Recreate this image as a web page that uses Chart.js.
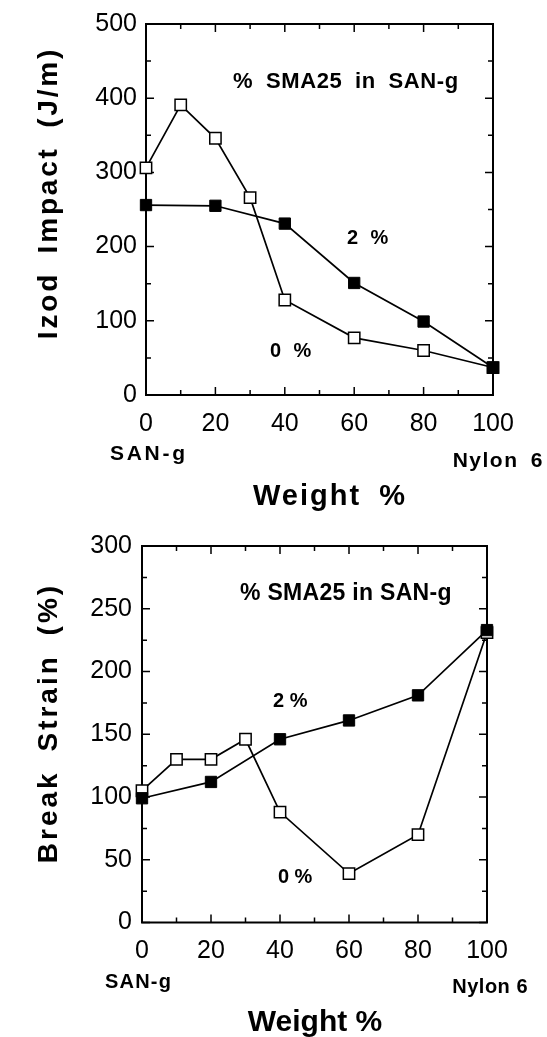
<!DOCTYPE html>
<html><head><meta charset="utf-8">
<script src="https://cdn.jsdelivr.net/npm/chart.js@4"></script>
<style>
html,body{margin:0;padding:0;background:#fff;width:547px;height:1037px;overflow:hidden}
.box{position:absolute;left:0;width:547px}
#b1{top:0;height:515px}
#b2{top:520px;height:517px}
</style></head><body>
<div class="box" id="b1"><canvas id="c1"></canvas></div>
<div class="box" id="b2"><canvas id="c2"></canvas></div>
<script>
// ---- data ----
const izodX0 = [0, 10, 20, 30, 40, 60, 80, 100];
const izod0  = [306, 391, 346, 266, 128, 77, 60, 37];
const izodX2 = [0, 20, 40, 60, 80, 100];
const izod2  = [256, 255, 231, 151, 99, 37];

const strainX0 = [0, 10, 20, 30, 40, 60, 80, 100];
const strain0  = [105, 130, 130, 146, 88, 39, 70, 231];
const strainX2 = [0, 20, 40, 60, 80, 100];
const strain2  = [99, 112, 146, 161, 181, 233];

const seriesLabels = ['2 %', '0 %'];
const legendTitle = '% SMA25 in SAN-g';
const yTitles = ['Izod Impact (J/m)', 'Break Strain (%)'];
const xTitle = 'Weight %';
const xEndLabels = ['SAN-g', 'Nylon 6'];
const xTickStep = 20, xMinorStep = 10;
const izodTickStep = 100, izodMinorStep = 50, izodMax = 500;
const strainTickStep = 50, strainMinorStep = 25, strainMax = 300;

// ---- helpers ----
const FAM = '"Liberation Sans", Arial, Helvetica, sans-serif';
function pts(xs, ys) { return xs.map((x, i) => ({ x: x, y: ys[i] })); }
function txt(ctx, s, x, y, o) {
  ctx.save();
  ctx.font = (o.bold ? 'bold ' : '') + o.size + 'px ' + FAM;
  ctx.fillStyle = '#000';
  ctx.textBaseline = 'alphabetic';
  ctx.textAlign = o.align || 'left';
  try { ctx.letterSpacing = (o.ls || 0) + 'px'; ctx.wordSpacing = (o.ws || 0) + 'px'; } catch (e) {}
  ctx.translate(x, y);
  if (o.rot) ctx.rotate(o.rot);
  ctx.fillText(s, 0, 0);
  ctx.restore();
}

const framePlugin = {
  id: 'frame',
  beforeDatasetsDraw(chart) {
    const c = chart.options.plugins.frame;
    const { ctx, chartArea: a, scales: { x, y } } = chart;
    ctx.save();
    ctx.strokeStyle = '#000';
    ctx.lineWidth = 1.5;
    ctx.beginPath();
    for (let v = x.min; v <= x.max; v += c.xMinor) {
      const p = x.getPixelForValue(v);
      const L = (v % c.xMajor === 0) ? 8 : 5;
      ctx.moveTo(p, a.bottom); ctx.lineTo(p, a.bottom - L);
      ctx.moveTo(p, a.top); ctx.lineTo(p, a.top + L);
    }
    for (let v = y.min; v <= y.max; v += c.yMinor) {
      const p = y.getPixelForValue(v);
      const L = (v % c.yMajor === 0) ? 8 : 5;
      ctx.moveTo(a.left, p); ctx.lineTo(a.left + L, p);
      ctx.moveTo(a.right, p); ctx.lineTo(a.right - L, p);
    }
    ctx.stroke();
    ctx.lineWidth = 2;
    ctx.strokeRect(a.left, a.top, a.right - a.left, a.bottom - a.top);
    ctx.restore();
  },
  afterDraw(chart) {
    const c = chart.options.plugins.frame;
    const { ctx, scales: { x, y } } = chart;
    c.notes.forEach(n => txt(ctx, n.text, x.getPixelForValue(n.x), y.getPixelForValue(n.y), n.style));
    c.fixed.forEach(n => txt(ctx, n.text, n.px, n.py, n.style));
  }
};

function makeChart(id, d0x, d0, d2x, d2, cfg) {
  const common = { borderColor: '#000', borderWidth: 1.7, pointStyle: 'rect', pointRadius: 8,
    pointHoverRadius: 8, fill: false, tension: 0, clip: false, showLine: true };
  return new Chart(document.getElementById(id), {
    type: 'line',
    data: { datasets: [
      Object.assign({ label: seriesLabels[0], data: pts(d2x, d2), pointBackgroundColor: '#000',
        pointBorderColor: '#000', pointBorderWidth: 1 }, common),
      Object.assign({ label: seriesLabels[1], data: pts(d0x, d0), pointBackgroundColor: '#fff',
        pointBorderColor: '#000', pointBorderWidth: 1.5 }, common)
    ] },
    options: {
      responsive: true, maintainAspectRatio: false, animation: false,
      layout: { padding: cfg.padding },
      plugins: { legend: { display: false }, tooltip: { enabled: false }, frame: cfg.frame },
      scales: {
        x: { type: 'linear', min: 0, max: 100,
          ticks: { stepSize: xTickStep, color: '#000', font: { family: FAM, size: 25 }, padding: 14, maxRotation: 0, autoSkip: false },
          grid: { display: false, drawTicks: false }, border: { display: false },
          afterFit(s) { s.height = cfg.xh; } },
        y: { type: 'linear', min: 0, max: cfg.ymax,
          ticks: { stepSize: cfg.ystep, color: '#000', font: { family: FAM, size: 25 }, padding: cfg.ypad, autoSkip: false },
          grid: { display: false, drawTicks: false }, border: { display: false },
          afterFit(s) { s.width = cfg.yw; } }
      }
    },
    plugins: [framePlugin]
  });
}

makeChart('c1', izodX0, izod0, izodX2, izod2, {
  padding: { top: 21, right: 54, left: 0, bottom: 0 }, xh: 120, yw: 146, ypad: 9,
  ymax: izodMax, ystep: izodTickStep,
  frame: {
    xMinor: xMinorStep, xMajor: xTickStep, yMinor: izodMinorStep, yMajor: izodTickStep,
    notes: [
      { text: legendTitle, x: 25.1, y: 414, style: { bold: true, size: 22, ls: 0.6, ws: 6 } },
      { text: seriesLabels[0], x: 57.9, y: 204, style: { bold: true, size: 20, ls: 0.5, ws: 6 } },
      { text: seriesLabels[1], x: 35.7, y: 51, style: { bold: true, size: 20, ls: 0.5, ws: 6 } }
    ],
    fixed: [
      { text: yTitles[0], px: 57, py: 193, style: { bold: true, size: 28, ls: 2.8, ws: 8, align: 'center', rot: -Math.PI / 2 } },
      { text: xEndLabels[0], px: 110, py: 460, style: { bold: true, size: 21, ls: 2.7 } },
      { text: xEndLabels[1], px: 544, py: 467, style: { bold: true, size: 21, ls: 1.5, ws: 5, align: 'right' } },
      { text: xTitle, px: 330, py: 505, style: { bold: true, size: 29, ls: 2, ws: 8, align: 'center' } }
    ]
  }
});

makeChart('c2', strainX0, strain0, strainX2, strain2, {
  padding: { top: 26, right: 60, left: 0, bottom: 0 }, xh: 114.5, yw: 142, ypad: 10,
  ymax: strainMax, ystep: strainTickStep,
  frame: {
    xMinor: xMinorStep, xMajor: xTickStep, yMinor: strainMinorStep, yMajor: strainTickStep,
    notes: [
      { text: legendTitle, x: 28.4, y: 257, style: { bold: true, size: 23, ls: 0.3 } },
      { text: seriesLabels[0], x: 38, y: 171.6, style: { bold: true, size: 20 } },
      { text: seriesLabels[1], x: 39.4, y: 31.5, style: { bold: true, size: 20 } }
    ],
    fixed: [
      { text: yTitles[1], px: 57, py: 203, style: { bold: true, size: 28, ls: 3, ws: 8, align: 'center', rot: -Math.PI / 2 } },
      { text: xEndLabels[0], px: 105, py: 468, style: { bold: true, size: 20, ls: 1.2 } },
      { text: xEndLabels[1], px: 528, py: 473, style: { bold: true, size: 20, ls: 0.5, align: 'right' } },
      { text: xTitle, px: 315, py: 511, style: { bold: true, size: 30, align: 'center' } }
    ]
  }
});
</script>
</body></html>
